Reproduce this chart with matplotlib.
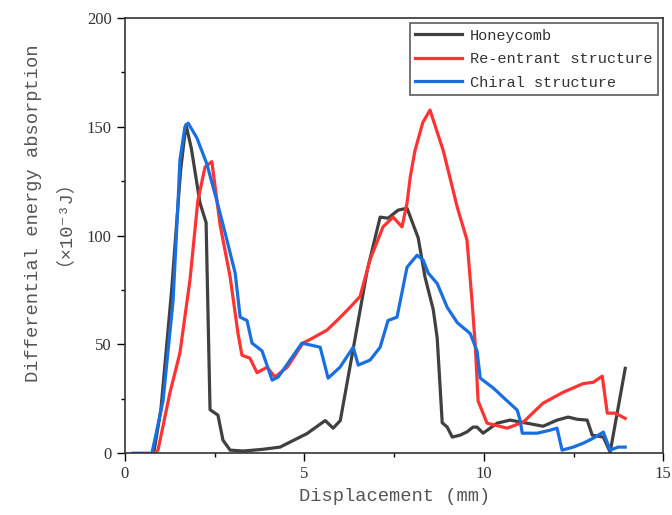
import matplotlib
matplotlib.use("Agg")
import matplotlib.pyplot as plt
from matplotlib.ticker import MultipleLocator

# Honeycomb
hc_x = [0.8, 1.0, 1.3, 1.55, 1.7, 1.85, 2.09, 2.26, 2.37, 2.59, 2.73, 2.93, 3.3, 3.85, 4.32,
        5.07, 5.58, 5.8, 6.0, 6.36, 6.75, 7.11, 7.33, 7.61, 7.86, 8.17, 8.36, 8.59, 8.7,
        8.84, 8.98, 9.12, 9.34, 9.53, 9.7, 9.81, 9.98, 10.37, 10.73, 11.2, 11.65, 12.04,
        12.35, 12.6, 12.88, 13.02, 13.33, 13.52, 13.94]
hc_y = [0, 20, 75, 130, 151, 140, 115, 106, 20, 17.5, 6, 1.4, 1, 1.8, 2.8,
        9, 15, 11.5, 15, 48, 84, 108.5, 108, 111.7, 112.6, 99, 81, 66, 53,
        14, 12, 7.4, 8.3, 9.8, 12, 12, 9.2, 13.8, 15.2, 13.8, 12.4, 15.2,
        16.6, 15.6, 15.2, 8.3, 7.4, 0.5, 39]

# Re-entrant structure
re_x = [0.8, 0.92, 1.25, 1.53, 1.81, 2.03, 2.23, 2.42, 2.65, 2.93, 3.15, 3.26, 3.48, 3.68,
        3.96, 4.18, 4.52, 4.96, 5.24, 5.63, 5.91, 6.27, 6.55, 6.83, 7.19, 7.47, 7.72, 7.86,
        7.95, 8.08, 8.3, 8.5, 8.87, 9.26, 9.53, 9.67, 9.76, 9.84, 10.09, 10.65, 11.1, 11.65,
        12.21, 12.77, 13.05, 13.3, 13.44, 13.66, 13.94]
re_y = [0, 1.4, 27.6, 46, 79.5, 116, 131.5, 134, 105, 81, 55, 45, 43.7, 37,
        39.5, 35, 39.5, 50.6, 53, 56.6, 61, 67, 72, 89, 104, 108.5, 104, 115,
        127, 139, 152, 157.7, 139, 113, 98, 70, 50, 24, 13.8, 11.5, 14.3, 23,
        28, 32, 32.6, 35.4, 18.4, 18.4, 16]

# Chiral structure
ch_x = [0.22, 0.75, 1.06, 1.34, 1.48, 1.53, 1.67, 1.76, 2.0, 2.28, 2.56, 2.84, 3.07, 3.21,
        3.4, 3.54, 3.82, 4.1, 4.27, 4.6, 4.93, 5.44, 5.66, 5.99, 6.36, 6.5, 6.83, 7.11,
        7.33, 7.58, 7.86, 8.14, 8.31, 8.45, 8.7, 8.98, 9.26, 9.62, 9.81, 9.9, 10.26,
        10.54, 10.93, 11.01, 11.07, 11.49, 11.85, 12.04, 12.18, 12.49, 12.77, 13.05,
        13.33, 13.52, 13.74, 13.94]
ch_y = [0, 0, 24, 70, 116, 134.7, 150, 151.7, 145, 133, 116, 98, 82.8, 62.5,
        61, 50.6, 47, 33.6, 35, 42.8, 50.6, 48.7, 34.5, 39.5, 48.7, 40.5, 42.8, 48.7,
        61, 62.5, 85.5, 91, 88.7, 82.8, 78, 67, 60, 55, 47, 34.5, 30,
        25.7, 19.8, 15.2, 9.2, 9.2, 10.6, 11.5, 1.4, 2.8, 4.6, 6.9,
        9.7, 1.4, 2.8, 2.8]

series_names = ["Honeycomb", "Re-entrant structure", "Chiral structure"]
colors = ["#404040", "#ff3333", "#1a6fe0"]

x_ticks = [0, 5, 10, 15]
y_ticks = [0, 50, 100, 150, 200]

mono = ["Liberation Mono", "Noto Sans CJK SC", "DejaVu Sans"]

fig = plt.figure(figsize=(6.72, 5.15), dpi=100)
ax = fig.add_axes([0.186, 0.12, 0.801, 0.845])

for xs, ys, name, c in zip([hc_x, re_x, ch_x], [hc_y, re_y, ch_y], series_names, colors):
    ax.plot(xs, ys, color=c, lw=2.3, label=name)

ax.set_xlim(0, 15)
ax.set_ylim(0, 200)
ax.set_xticks(x_ticks)
ax.set_yticks(y_ticks)
ax.xaxis.set_minor_locator(MultipleLocator(2.5))
ax.yaxis.set_minor_locator(MultipleLocator(25))
ax.tick_params(which="major", direction="out", length=6, width=1, labelsize=12)
ax.tick_params(which="minor", direction="out", length=3, width=1)
for lab in ax.get_xticklabels() + ax.get_yticklabels():
    lab.set_fontfamily("Liberation Serif")
    lab.set_color("#333333")
for s in ax.spines.values():
    s.set_linewidth(1.2)
    s.set_color("#333333")

ax.set_xlabel("Displacement (mm)", fontsize=13.5, family=mono, color="#555555", labelpad=4)
ax.set_ylabel("Differential energy absorption\n（×10⁻³J）", fontsize=13.5, family=mono,
              color="#555555", linespacing=1.25)
ax.yaxis.set_label_coords(-0.115, 0.552)

leg = ax.legend(loc="upper right", prop={"family": mono, "size": 11}, frameon=True,
                fancybox=False, edgecolor="#333333", handlelength=3.1,
                handletextpad=0.5, borderpad=0.35, borderaxespad=0.35,
                labelspacing=0.62)
leg.get_frame().set_linewidth(1.2)
for t in leg.get_texts():
    t.set_color("#333333")

fig.savefig("out.png", dpi=100)
